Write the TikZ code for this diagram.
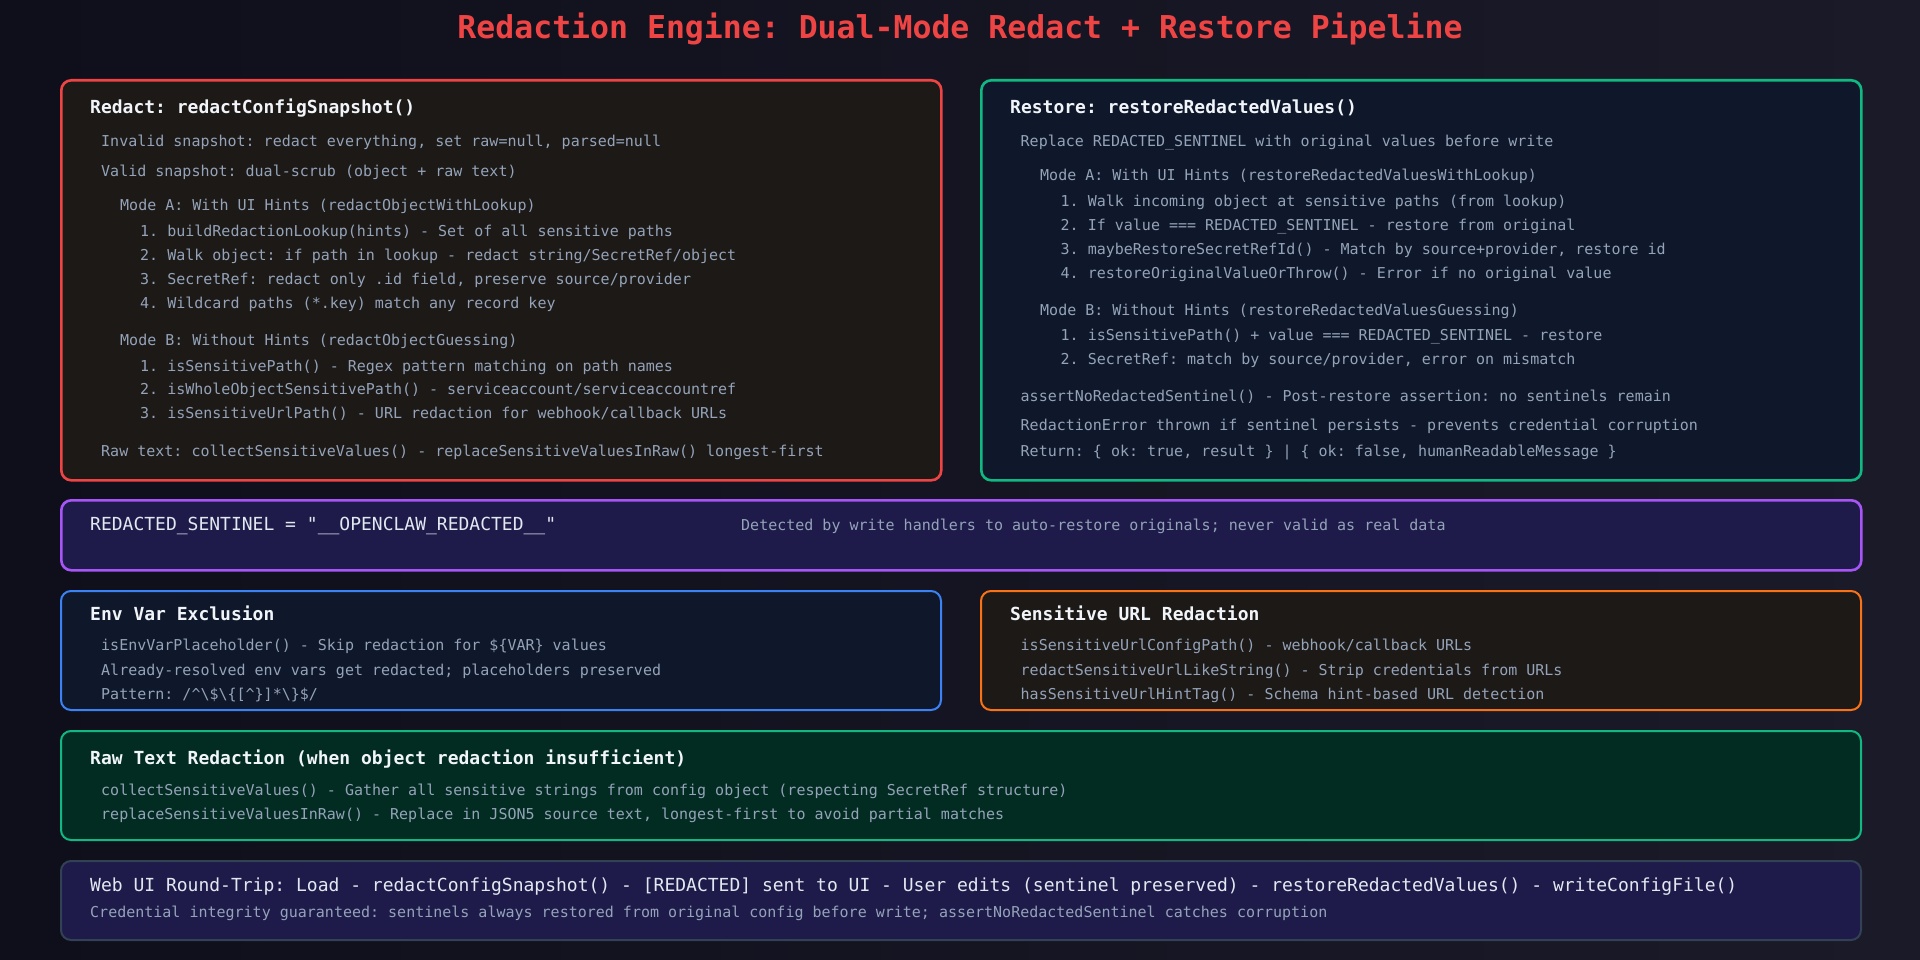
\documentclass[tikz,border=0pt]{standalone}
\usepackage{fontspec}
\usepackage{xcolor}
\usepackage{tikz}
\usetikzlibrary{positioning}
\newfontfamily\codefont{DejaVu Sans Mono}
\definecolor{bgleft}{HTML}{0F0F1B}
\definecolor{bgright}{HTML}{1B1A29}
\definecolor{titlered}{HTML}{EF4444}
\definecolor{headwhite}{HTML}{F1F5F9}
\definecolor{softwhite}{HTML}{E2E8F0}
\definecolor{bodygray}{HTML}{94A3B8}
\definecolor{redline}{HTML}{EF4444}
\definecolor{warmfill}{HTML}{1C1917}
\definecolor{greenline}{HTML}{10B981}
\definecolor{navyfill}{HTML}{0F172A}
\definecolor{purpleline}{HTML}{A855F7}
\definecolor{indigofill}{HTML}{1E1B4B}
\definecolor{blueline}{HTML}{3B82F6}
\definecolor{orangeline}{HTML}{F97316}
\definecolor{forestfill}{HTML}{022C22}
\definecolor{slateline}{HTML}{334155}
\tikzset{
 panel/.style={
 rectangle,
 rounded corners=10pt,
 anchor=north west,
 inner sep=0pt,
 line width=2.6pt
 },
 subpanel/.style={
 panel,
 line width=2pt
 },
 paneltitle/.style={
 anchor=base west,
 inner sep=0pt,
 text=headwhite,
 font=\codefont\bfseries\fontsize{18pt}{22pt}\selectfont
 },
 bodyline/.style={
 anchor=base west,
 inner sep=0pt,
 text=bodygray,
 font=\codefont\fontsize{15pt}{18pt}\selectfont
 },
 bigline/.style={
 anchor=base west,
 inner sep=0pt,
 text=softwhite,
 font=\codefont\fontsize{18pt}{22pt}\selectfont
 }
}
\begin{document}
\frenchspacing
\begin{tikzpicture}[x=1pt, y=-1pt]
	\useasboundingbox (0,0) rectangle (1920,960);
	\path[left color=bgleft, right color=bgright] (0,0) rectangle (1920,960);

	\node[anchor=base, inner sep=0pt, text=titlered, font=\codefont\bfseries\fontsize{31.5pt}{36pt}\selectfont] (title) at (960,38.5) {Redaction Engine: Dual-Mode Redact + Restore Pipeline};

	% redact panel
	\node[panel, draw=redline, fill=warmfill, minimum width=880pt, minimum height=400pt] (redact) at (60,79) {};
	\node[paneltitle] (redactHead) at (90,114) {Redact: redactConfigSnapshot()};
	\node[bodyline] (redact1) at (101,146.5) {Invalid snapshot: redact everything, set raw=null, parsed=null};
	\node[bodyline] (redact2) at (101,176.5) {Valid snapshot: dual-scrub (object + raw text)};
	\node[bodyline] (redactA) at (120,210.5) {Mode A: With UI Hints (redactObjectWithLookup)};
	\node[bodyline] (redactA1) at (140,236.5) {1. buildRedactionLookup(hints) - Set of all sensitive paths};
	\node[bodyline] (redactA2) at (140,260.5) {2. Walk object: if path in lookup - redact string/SecretRef/object};
	\node[bodyline] (redactA3) at (140,284.5) {3. SecretRef: redact only .id field, preserve source/provider};
	\node[bodyline] (redactA4) at (140,308.5) {4. Wildcard paths (*.key) match any record key};
	\node[bodyline] (redactB) at (120,345) {Mode B: Without Hints (redactObjectGuessing)};
	\node[bodyline] (redactB1) at (140,371) {1. isSensitivePath() - Regex pattern matching on path names};
	\node[bodyline] (redactB2) at (140,394.5) {2. isWholeObjectSensitivePath() - serviceaccount/serviceaccountref};
	\node[bodyline] (redactB3) at (140,418.5) {3. isSensitiveUrlPath() - URL redaction for webhook/callback URLs};
	\node[bodyline] (redact3) at (101,456.5) {Raw text: collectSensitiveValues() - replaceSensitiveValuesInRaw() longest-first};

	% restore panel
	\node[panel, draw=greenline, fill=navyfill, minimum width=880pt, minimum height=400pt] (restore) at (980,79) {};
	\node[paneltitle] (restoreHead) at (1010,114) {Restore: restoreRedactedValues()};
	\node[bodyline] (restore1) at (1020.5,146.5) {Replace REDACTED\_SENTINEL with original values before write};
	\node[bodyline] (restoreA) at (1040,180.5) {Mode A: With UI Hints (restoreRedactedValuesWithLookup)};
	\node[bodyline] (restoreA1) at (1060.5,206.5) {1. Walk incoming object at sensitive paths (from lookup)};
	\node[bodyline] (restoreA2) at (1060.5,230.5) {2. If value === REDACTED\_SENTINEL - restore from original};
	\node[bodyline] (restoreA3) at (1060.5,254.5) {3. maybeRestoreSecretRefId() - Match by source+provider, restore id};
	\node[bodyline] (restoreA4) at (1060.5,278.5) {4. restoreOriginalValueOrThrow() - Error if no original value};
	\node[bodyline] (restoreB) at (1040,315) {Mode B: Without Hints (restoreRedactedValuesGuessing)};
	\node[bodyline] (restoreB1) at (1060.5,340.5) {1. isSensitivePath() + value === REDACTED\_SENTINEL - restore};
	\node[bodyline] (restoreB2) at (1060.5,364.5) {2. SecretRef: match by source/provider, error on mismatch};
	\node[bodyline] (restore2) at (1020.5,401) {assertNoRedactedSentinel() - Post-restore assertion: no sentinels remain};
	\node[bodyline] (restore3) at (1020.5,430.5) {RedactionError thrown if sentinel persists - prevents credential corruption};
	\node[bodyline] (restore4) at (1020.5,456.5) {Return: \{ ok: true, result \} | \{ ok: false, humanReadableMessage \}};

	% sentinel strip
	\node[panel, draw=purpleline, fill=indigofill, minimum width=1800pt, minimum height=70pt] (sentinel) at (60,499) {};
	\node[bigline] (sentinelValue) at (90,530.5) {REDACTED\_SENTINEL = "\_\_OPENCLAW\_REDACTED\_\_"};
	\node[bodyline] (sentinelNote) at (741,530.5) {Detected by write handlers to auto-restore originals; never valid as real data};

	% env var + url panels
	\node[subpanel, draw=blueline, fill=navyfill, minimum width=880pt, minimum height=119pt] (envvar) at (60,590) {};
	\node[paneltitle] (envvarHead) at (90,620) {Env Var Exclusion};
	\node[bodyline] (envvar1) at (101,650.5) {isEnvVarPlaceholder() - Skip redaction for \$\{VAR\} values};
	\node[bodyline] (envvar2) at (101,675) {Already-resolved env vars get redacted; placeholders preserved};
	\node[bodyline] (envvar3) at (101,699) {Pattern: /\textasciicircum\textbackslash\$\textbackslash\{[\textasciicircum\}]*\textbackslash\}\$/};

	\node[subpanel, draw=orangeline, fill=warmfill, minimum width=880pt, minimum height=119pt] (urlred) at (980,590) {};
	\node[paneltitle] (urlredHead) at (1010,620) {Sensitive URL Redaction};
	\node[bodyline] (urlred1) at (1020.5,650.5) {isSensitiveUrlConfigPath() - webhook/callback URLs};
	\node[bodyline] (urlred2) at (1020.5,675) {redactSensitiveUrlLikeString() - Strip credentials from URLs};
	\node[bodyline] (urlred3) at (1020.5,699) {hasSensitiveUrlHintTag() - Schema hint-based URL detection};

	% raw text panel
	\node[subpanel, draw=greenline, fill=forestfill, minimum width=1800pt, minimum height=109pt] (rawtext) at (60,730) {};
	\node[paneltitle] (rawtextHead) at (90,764.5) {Raw Text Redaction (when object redaction insufficient)};
	\node[bodyline] (rawtext1) at (101,795.5) {collectSensitiveValues() - Gather all sensitive strings from config object (respecting SecretRef structure)};
	\node[bodyline] (rawtext2) at (101,819) {replaceSensitiveValuesInRaw() - Replace in JSON5 source text, longest-first to avoid partial matches};

	% round trip strip
	\node[subpanel, draw=slateline, fill=indigofill, minimum width=1800pt, minimum height=79pt] (roundtrip) at (60,860) {};
	\node[bigline] (roundtrip1) at (90,891) {Web UI Round-Trip: Load - redactConfigSnapshot() - [REDACTED] sent to UI - User edits (sentinel preserved) - restoreRedactedValues() - writeConfigFile()};
	\node[bodyline] (roundtrip2) at (90,917) {Credential integrity guaranteed: sentinels always restored from original config before write; assertNoRedactedSentinel catches corruption};
\end{tikzpicture}
\end{document}
